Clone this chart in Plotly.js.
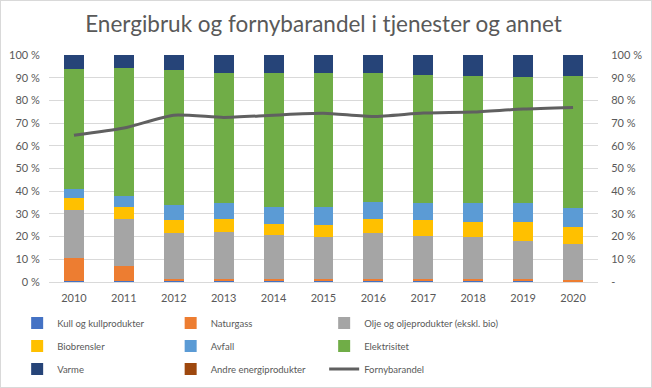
<!DOCTYPE html>
<html>
<head>
<meta charset="utf-8">
<script src="https://cdn.plot.ly/plotly-3.0.1.min.js"></script>
<style>
html,body{margin:0;padding:0;background:#fff;}
#wrap{position:absolute;left:0;top:0;width:652px;height:388px;border:1px solid #d9d9d9;box-sizing:border-box;}
#chart{width:650px;height:386px;}
</style>
</head>
<body>
<div id="wrap"><div id="chart"></div></div>
<script>
const years = ['2010','2011','2012','2013','2014','2015','2016','2017','2018','2019','2020'];
const kull        = [0.4,0.4,0.4,0.4,0.4,0.4,0.4,0.4,0.4,0.4,0.0];
const naturgass   = [10.2,6.7,1.0,0.8,0.8,0.8,0.8,0.8,0.8,0.8,1.0];
const olje        = [21.2,20.7,20.2,20.9,19.5,18.7,20.4,19.1,18.7,16.9,15.8];
const biobrensler = [5.4,5.3,5.8,5.7,5.0,5.2,6.2,7.1,6.6,8.4,7.5];
const avfall      = [3.8,5.0,6.6,7.1,7.4,8.0,7.6,7.5,8.1,8.1,8.5];
const elektrisitet= [53.0,56.3,59.5,57.3,59.1,58.8,56.5,56.4,56.3,55.8,58.1];
const varme       = [6.0,5.6,6.5,7.8,7.8,8.1,8.1,8.7,9.1,9.6,9.1];
const andre       = [0,0,0,0,0,0,0,0,0,0,0];
const fornybarandel = [64.6,67.8,73.5,72.5,73.5,74.3,72.9,74.4,74.9,76.2,76.9];

const tickVals = [0,10,20,30,40,50,60,70,80,90,100];
const leftTicks = ['0 %','10 %','20 %','30 %','40 %','50 %','60 %','70 %','80 %','90 %','100 %'];
const rightTicks = ['-','10 %','20 %','30 %','40 %','50 %','60 %','70 %','80 %','90 %','100 %'];

const FONT = 'Lato, "Open Sans", sans-serif';
const GREY = '#595959';

function bar(name, y, color, legend, lw) {
  const t = {type:'bar', name:name, x:years, y:y, marker:{color:color, line:{width:0}},
          legend:legend, hoverinfo:'skip'};
  if (lw) t.legendwidth = lw;
  return t;
}
const traces = [
  bar('Kull og kullprodukter', kull, '#4472C4', 'legend'),
  bar('Naturgass', naturgass, '#ED7D31', 'legend'),
  bar('Olje og oljeprodukter (ekskl. bio)', olje, '#A5A5A5', 'legend', 200),
  bar('Biobrensler', biobrensler, '#FFC000', 'legend2'),
  bar('Avfall', avfall, '#5B9BD5', 'legend2'),
  bar('Elektrisitet', elektrisitet, '#70AD47', 'legend2', 200),
  bar('Varme', varme, '#264478', 'legend3'),
  bar('Andre energiprodukter', andre, '#9E480E', 'legend3'),
  {type:'scatter', mode:'lines', name:'Fornybarandel', x:years, y:fornybarandel, yaxis:'y2',
   line:{color:'#606060', width:3, shape:'spline', smoothing:0.6}, legend:'legend3',
   legendwidth:200, hoverinfo:'skip'}
];

const plotTop = 54, plotH = 227;
function py(Y){ return (plotTop + plotH - Y) / plotH; }
function legendRow(yWin){
  return {orientation:'h', x:-0.058, xanchor:'left', y:py(yWin-1), yanchor:'middle',
          entrywidth:108.5, entrywidthmode:'pixels', traceorder:'normal',
          font:{family:FONT, size:9.5, color:GREY}, bgcolor:'rgba(0,0,0,0)', borderwidth:0};
}

const layout = {
  width:650, height:386,
  margin:{l:48, r:53, t:54, b:105, autoexpand:false},
  paper_bgcolor:'#fff', plot_bgcolor:'#fff',
  barmode:'stack', bargap:0.6,
  font:{family:FONT, color:GREY, size:11},
  title:{text:'Energibruk og fornybarandel i tjenester og annet',
         font:{family:FONT, size:22.5, color:GREY}, x:0.5, xanchor:'center', xref:'paper',
         y:(386-23)/386, yanchor:'middle', yref:'container'},
  xaxis:{type:'category', range:[-0.5,10.5], showgrid:false, zeroline:false,
         showline:true, linecolor:'#d9d9d9', linewidth:1,
         ticks:'outside', ticklen:6, tickcolor:'rgba(0,0,0,0)',
         tickfont:{family:FONT, size:11, color:GREY}, fixedrange:true},
  yaxis:{range:[0,100], tickvals:tickVals, ticktext:leftTicks, showgrid:true, gridcolor:'#d9d9d9',
         gridwidth:1, zeroline:false, showline:false, ticks:'outside', ticklen:6, tickcolor:'rgba(0,0,0,0)',
         tickfont:{family:FONT, size:11, color:GREY}, fixedrange:true},
  yaxis2:{range:[0,100], overlaying:'y', side:'right', tickvals:tickVals, ticktext:rightTicks,
          showgrid:false, zeroline:false, showline:false, ticks:'outside', ticklen:10,
          tickcolor:'rgba(0,0,0,0)', tickfont:{family:FONT, size:11, color:GREY}, fixedrange:true},
  legend: legendRow(323),
  legend2: legendRow(346),
  legend3: legendRow(369),
  showlegend:true
};

Plotly.newPlot('chart', traces, layout, {displayModeBar:false, staticPlot:true});
</script>
</body>
</html>
